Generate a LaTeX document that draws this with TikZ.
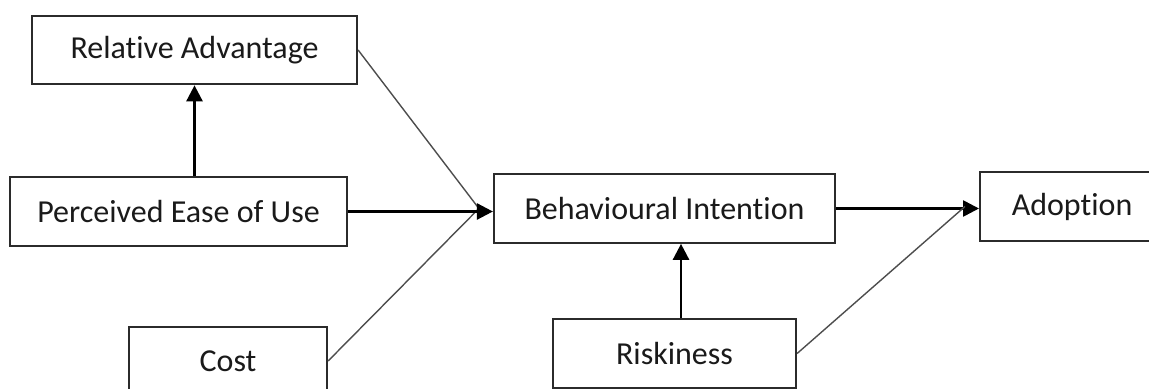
\documentclass[tikz,border=0pt]{standalone}
\usepackage{fontspec}
\setmainfont[Ligatures=NoCommon]{Carlito}
\usepackage{xcolor}
\usepackage{tikz}
\usetikzlibrary{arrows.meta}
\definecolor{boxline}{HTML}{2B2B2B}
\definecolor{textmain}{HTML}{1A1A1A}
\definecolor{thinline}{HTML}{4D4D4D}
\tikzset{every node/.append style={font=\fontsize{16}{19}\selectfont}}
\tikzset{
  factor/.style={draw=boxline,line width=1.1pt,text=textmain,fill=white,
    minimum height=34.25pt,inner sep=0pt},
  arr/.style={-{Triangle[length=8pt,width=8pt]},line width=1.3pt,black},
  weak/.style={thinline,line width=0.7pt}
}

\begin{document}
\begin{tikzpicture}[x=0.5pt,y=-0.5pt]
  \useasboundingbox (0,0) rectangle (1149,389);
  \clip (0,0) rectangle (1149,389);
  \node[factor,minimum width=162.5pt] (ra) at (194.5,50) {Relative Advantage};
  \node[factor,minimum width=168.5pt] (peu) at (178.5,211.5) {Perceived Ease of Use};
  \node[factor,minimum width=99pt] (cost) at (228,361) {Cost};
  \node[factor,minimum width=170.5pt] (bi) at (664.5,208.5) {Behavioural Intention};
  \node[factor,minimum width=92pt,anchor=west] (adopt) at (979,206.5) {Adoption\hspace{5.5pt}};
  \node[factor,minimum width=121.5pt] (risk) at (674.5,353.5) {Riskiness};
  \coordinate (bimeet) at ([xshift=-7pt]bi.west);
  \coordinate (admeet) at ([xshift=-7pt]adopt.west);
  \coordinate (risktop) at ([xshift=3.25pt]risk.north);
  \draw[arr] (ra.south |- peu.north) -- (ra.south);
  \draw[weak] (ra.east) -- (bimeet);
  \draw[weak] (cost.east) -- (bimeet);
  \draw[arr] (peu.east) -- (peu.east -| bi.west);
  \draw[arr] (bi.east) -- (bi.east -| adopt.west);
  \draw[arr] (risktop) -- (risktop |- bi.south);
  \draw[weak] (risk.east) -- (admeet);
\end{tikzpicture}
\end{document}
